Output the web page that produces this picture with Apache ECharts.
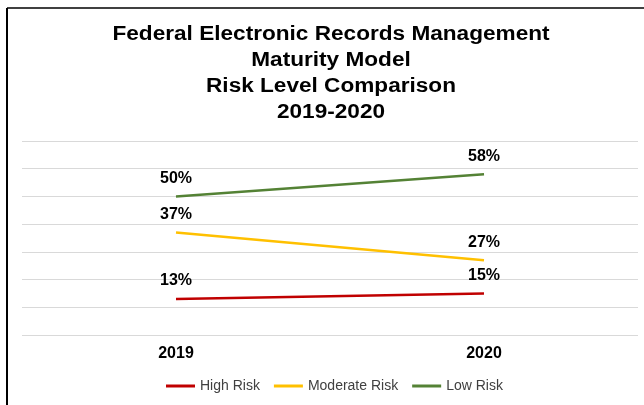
<!DOCTYPE html>
<html>
<head>
<meta charset="utf-8">
<script src="https://cdn.jsdelivr.net/npm/echarts@6/dist/echarts.min.js"></script>
<style>
html,body{margin:0;padding:0;background:#fff;}
#c{width:644px;height:405px;}
</style>
</head>
<body>
<div id="c"></div>
<script>
var categories = ['2019', '2020'];
var highRisk = [13, 15];
var moderateRisk = [37, 27];
var lowRisk = [50, 58];
var seriesNames = ['High Risk', 'Moderate Risk', 'Low Risk'];
var titleLines = ['Federal Electronic Records Management', 'Maturity Model', 'Risk Level Comparison', '2019-2020'];

var chart = echarts.init(document.getElementById('c'), null, {renderer: 'canvas'});
var labelCfg = {
  show: true, position: 'top', distance: 10,
  formatter: function (p) { return p.value + '%'; },
  fontFamily: 'Liberation Sans, Arial, sans-serif', fontSize: 16, fontWeight: 'bold', color: '#000'
};
function mk(name, data, color) {
  return {
    name: name, type: 'line', data: data, showSymbol: true, symbol: 'circle', symbolSize: 0,
    lineStyle: {color: color, width: 2.5}, itemStyle: {color: color},
    label: labelCfg, silent: true, animation: false
  };
}
chart.setOption({
  animation: false,
  backgroundColor: '#fff',
  legend: {
    bottom: 7, left: 161, itemGap: 14, itemWidth: 29, itemHeight: 3, icon: 'rect',
    data: seriesNames,
    textStyle: {fontFamily: 'Liberation Sans, Arial, sans-serif', fontSize: 14, color: '#404040'}
  },
  grid: {left: 22, right: 6, top: 141, bottom: 70, containLabel: false},
  xAxis: {
    type: 'category', data: categories, boundaryGap: true,
    axisLine: {show: false}, axisTick: {show: false},
    axisLabel: {margin: 11, fontFamily: 'Liberation Sans, Arial, sans-serif', fontSize: 16, fontWeight: 'bold', color: '#000'}
  },
  yAxis: {
    type: 'value', min: 0, max: 70, interval: 10,
    axisLabel: {show: false}, axisLine: {show: false}, axisTick: {show: false},
    splitLine: {show: true, lineStyle: {color: '#D9D9D9', width: 1}}
  },
  graphic: [
    {type: 'line', shape: {x1: 7, y1: 8, x2: 644, y2: 8}, style: {stroke: '#404040', lineWidth: 2}, silent: true},
    {type: 'line', shape: {x1: 7, y1: 8, x2: 7, y2: 405}, style: {stroke: '#000', lineWidth: 2}, silent: true},
    {type: 'text', x: 331, y: 21, scaleX: 1.13, silent: true,
     style: {text: titleLines.join('\n'), textAlign: 'center', textVerticalAlign: 'top',
             font: 'bold 20px "Liberation Sans", Arial, sans-serif', lineHeight: 26, fill: '#000'}}
  ],
  series: [
    mk(seriesNames[0], highRisk, '#C00000'),
    mk(seriesNames[1], moderateRisk, '#FFC000'),
    mk(seriesNames[2], lowRisk, '#548235')
  ]
});
</script>
</body>
</html>
